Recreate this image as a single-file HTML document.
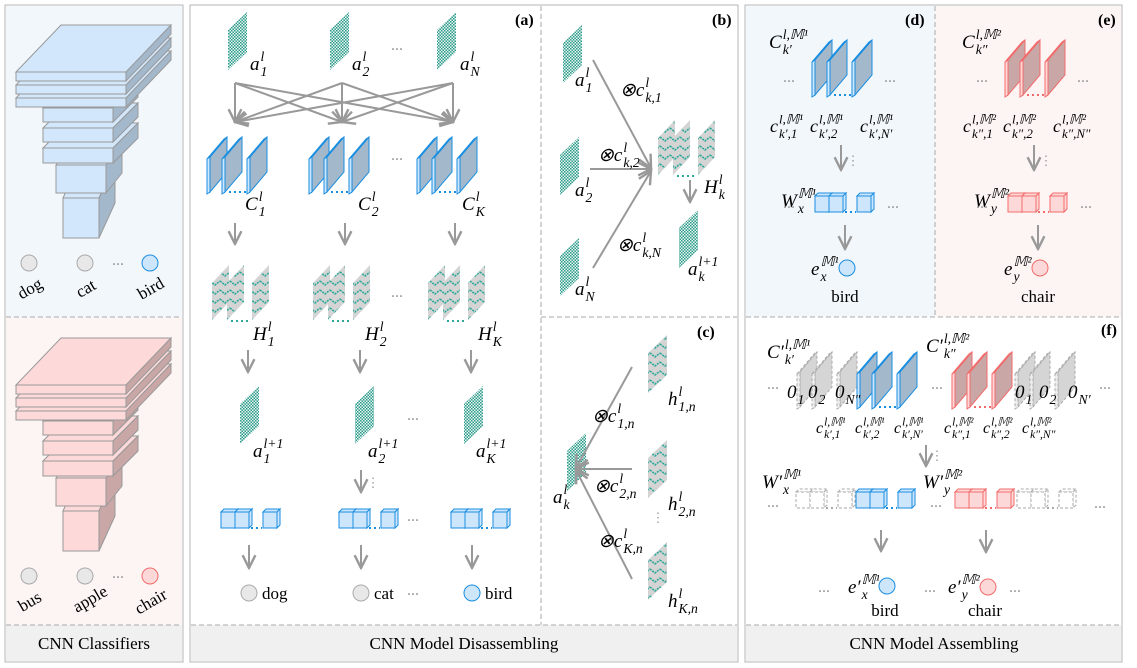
<!DOCTYPE html>
<html><head><meta charset="utf-8"><style>
html,body{margin:0;padding:0;background:#fff;}
svg{display:block;font-family:"Liberation Serif",serif;}
</style></head><body>
<svg id="fig" xmlns="http://www.w3.org/2000/svg" width="1137" height="668" viewBox="0 0 1137 668">
<defs>
<pattern id="chk" width="3" height="3" patternUnits="userSpaceOnUse"><rect width="3" height="3" fill="#e8f4f1"/><rect width="1.5" height="1.5" fill="#2e9c8c"/><rect x="1.5" y="1.5" width="1.5" height="1.5" fill="#2e9c8c"/></pattern>
<pattern id="zig" width="10" height="9" patternUnits="userSpaceOnUse"><rect width="10" height="9" fill="#d4d4d4"/><polyline points="0,2 5,6 10,2" fill="none" stroke="#2aa898" stroke-width="1.6" stroke-dasharray="2,1"/></pattern>
<marker id="ah" viewBox="0 0 10 10" refX="9" refY="5" markerWidth="8" markerHeight="8" orient="auto-start-reverse"><polyline points="1,1 9,5 1,9" fill="none" stroke="#999" stroke-width="1.5"/></marker>
</defs>
<rect x="5" y="5" width="178" height="657" fill="#fff" stroke="#b5b5b5"/>
<rect x="6" y="6" width="176" height="311" fill="#f2f7fc"/>
<rect x="6" y="317" width="176" height="308" fill="#fdf5f4"/>
<rect x="6" y="625" width="176" height="36" fill="#f0f0f0"/>
<line x1="6" y1="317" x2="182" y2="317" stroke="#aaa" stroke-dasharray="5,3"/>
<line x1="6" y1="625" x2="182" y2="625" stroke="#aaa" stroke-dasharray="5,3"/>
<rect x="190" y="5" width="548" height="657" fill="#fff" stroke="#b5b5b5"/>
<rect x="191" y="625" width="546" height="36" fill="#f0f0f0"/>
<line x1="191" y1="625" x2="737" y2="625" stroke="#aaa" stroke-dasharray="5,3"/>
<line x1="541" y1="6" x2="541" y2="625" stroke="#aaa" stroke-dasharray="5,3"/>
<line x1="541" y1="317" x2="737" y2="317" stroke="#aaa" stroke-dasharray="5,3"/>
<rect x="745" y="5" width="377" height="657" fill="#fff" stroke="#b5b5b5"/>
<rect x="746" y="6" width="189" height="311" fill="#f2f7fc"/>
<rect x="935" y="6" width="186" height="311" fill="#fdf5f4"/>
<line x1="935" y1="6" x2="935" y2="317" stroke="#aaa" stroke-dasharray="5,3"/>
<line x1="746" y1="317" x2="1121" y2="317" stroke="#aaa" stroke-dasharray="5,3"/>
<rect x="746" y="625" width="375" height="36" fill="#f0f0f0"/>
<line x1="746" y1="625" x2="1121" y2="625" stroke="#aaa" stroke-dasharray="5,3"/>
<text x="94" y="649" font-size="17" text-anchor="middle">CNN Classifiers</text>
<text x="464" y="649" font-size="17" text-anchor="middle">CNN Model Disassembling</text>
<text x="934" y="649" font-size="17" text-anchor="middle">CNN Model Assembling</text>
<g id="g"></g>
</svg>
<script>
const NS="http://www.w3.org/2000/svg";
const G=document.getElementById('g');
function mk(tag,attrs,name,parent){
  const el=document.createElementNS(NS,tag);
  for(const k in attrs) el.setAttribute(k,attrs[k]);
  
  
  (parent||G).appendChild(el);return el;
}
function poly(pts,fill,stroke,name,extra){
  const a={points:pts.map(p=>p.join(',')).join(' '),fill:fill,stroke:stroke||'none','stroke-width':1};
  Object.assign(a,extra||{});return mk('polygon',a,name);
}
function line(x1,y1,x2,y2,name,extra){
  const a={x1:x1,y1:y1,x2:x2,y2:y2,stroke:'#999','stroke-width':2};Object.assign(a,extra||{});return mk('line',a,name);
}
function arrow(x1,y1,x2,y2,name){return line(x1,y1,x2,y2,name,{'marker-end':'url(#ah)'});}
function txt(x,y,s,size,name,extra){
  const a={x:x,y:y,'font-size':size};Object.assign(a,extra||{});const t=mk('text',a,name);t.textContent=s;return t;
}
function dots(x,y,name,vert){
  if(vert){txt(x,y,'⋮',13,name,{fill:'#999','text-anchor':'middle'});}
  else{txt(x,y,'···',12,name,{fill:'#999','text-anchor':'middle','font-weight':'bold'});}
}
function math(x,y,base,sup,sub,name,size){
  size=size||19;
  const gg=mk('g',{},name);
  const b=document.createElementNS(NS,'text');
  b.setAttribute('x',x);b.setAttribute('y',y);b.setAttribute('font-size',size);b.setAttribute('font-style','italic');
  b.textContent=base;gg.appendChild(b);
  let w=b.getComputedTextLength?b.getComputedTextLength():size*0.5*base.length;
  if(!w) w=size*0.5*base.length;
  if(sup){const s=document.createElementNS(NS,'text');s.setAttribute('x',x+w+1);s.setAttribute('y',y-size*0.48);s.setAttribute('font-size',size*0.72);s.setAttribute('font-style','italic');s.textContent=sup;gg.appendChild(s);}
  if(sub){const s=document.createElementNS(NS,'text');s.setAttribute('x',x+w+1);s.setAttribute('y',y+size*0.32);s.setAttribute('font-size',size*0.72);s.setAttribute('font-style','italic');s.textContent=sub;gg.appendChild(s);}
  return gg;
}
function fmap(x,y,name,w,h,fill){
  w=w||19;h=h||58;const sk=18;
  return poly([[x,y+sk],[x+w,y],[x+w,y+h-sk],[x,y+h]],fill||'url(#chk)','none',name);
}
function plate(x,y,fill,stroke,light,name,dash){
  const w=17,h=55,sk=20;
  poly([[x-3,y+sk+2],[x+w-3,y+2],[x+w,y],[x,y+sk]],light,stroke,name+'-edge',dash?{'stroke-dasharray':'3,2'}:{});
  poly([[x,y+sk],[x+w,y],[x+w,y+h-sk],[x,y+h]],fill,stroke,name,dash?{'stroke-dasharray':'3,2'}:{});
  poly([[x-3,y+sk+2],[x,y+sk],[x,y+h],[x-3,y+h+2]],light,stroke,name+'-side',dash?{'stroke-dasharray':'3,2'}:{});
}
function convGroup(x,y,fill,stroke,light,name,dotc){
  plate(x,y,fill,stroke,light,name+'-filter-1');
  plate(x+15,y,fill,stroke,light,name+'-filter-2');
  plate(x+40,y,fill,stroke,light,name+'-filter-n');
  line(x+19,y+55,x+38,y+55,name+'-dots',{stroke:dotc||stroke,'stroke-dasharray':'2,3','stroke-width':2});
}
function hGroup(x,y,name){
  fmap(x,y,name+'-map-1',17,55,'url(#zig)');
  fmap(x+15,y,name+'-map-2',17,55,'url(#zig)');
  fmap(x+40,y,name+'-map-n',17,55,'url(#zig)');
  line(x+19,y+56,x+38,y+56,name+'-dots',{stroke:'#2aa898','stroke-dasharray':'2,3','stroke-width':2});
}
function box(x,y,fill,stroke,name,dash){
  const e=dash?{'stroke-dasharray':'3,2'}:{};
  poly([[x,y],[x+3,y-3],[x+17,y-3],[x+14,y]],fill,stroke,name+'-top',e);
  poly([[x+14,y],[x+17,y-3],[x+17,y+13],[x+14,y+16]],fill,stroke,name+'-side',e);
  mk('rect',Object.assign({x:x,y:y,width:14,height:16,fill:fill,stroke:stroke},e),name);
}
function cubes(x,y,fill,stroke,name,dotc,dash){
  box(x,y,fill,stroke,name+'-unit-1',dash);box(x+14,y,fill,stroke,name+'-unit-2',dash);box(x+42,y,fill,stroke,name+'-unit-n',dash);
  line(x+30,y+16,x+41,y+16,name+'-dots',{stroke:dotc||stroke,'stroke-dasharray':'2,3','stroke-width':2});
}
function circ(x,y,fill,stroke,name){return mk('circle',{cx:x,cy:y,r:8,fill:fill,stroke:stroke,'stroke-width':1},name);}
function cuboid(x,y,w,h,dx,dy,front,side,name){
  poly([[x,y],[x+dx,y+dy],[x+w+dx,y+dy],[x+w,y]],front,'#999',name+'-top');
  poly([[x+w,y],[x+w+dx,y+dy],[x+w+dx,y+h+dy],[x+w,y+h]],side,'#999',name+'-side');
  mk('rect',{x:x,y:y,width:w,height:h,fill:front,stroke:'#999'},name);
}
const BLUE='#1a8ee0',BL='#cde6fb',BP='#a3b8cb';
const RED='#f26b6b',RL='#fdd8d8',RP='#c9a7a7';

function classifier(oy,front,side,cls,hl,hls,name){
  cuboid(63,198+oy,36,40,16,-35,front,side,name+'-layer-8');
  cuboid(56,165+oy,50,28,16,-20,front,side,name+'-layer-7');
  cuboid(43,148+oy,70,15,25,-25,front,side,name+'-layer-6');
  cuboid(43,128+oy,70,14,25,-25,front,side,name+'-layer-5');
  cuboid(43,108+oy,70,14,25,-25,front,side,name+'-layer-4');
  cuboid(16,98+oy,110,9,45,-47,front,side,name+'-layer-3');
  cuboid(16,85+oy,110,9,45,-47,front,side,name+'-layer-2');
  cuboid(16,72+oy,110,9,45,-47,front,side,name+'-layer-1');
  const cx=[29,85,150];
  circ(cx[0],263+oy,'#e8e8e8','#aaa',name+'-output-1');
  circ(cx[1],263+oy,'#e8e8e8','#aaa',name+'-output-2');
  circ(cx[2],263+oy,hl,hls,name+'-output-n');
  dots(118,268+oy,name+'-dots');
  cls.forEach((c,i)=>{txt(cx[i]+(i==1&&c.length>3?5:0),292+oy,c,17,name+'-label-'+c,{'text-anchor':'middle',transform:'rotate(-30 '+(cx[i]+4)+' '+(286+oy)+')'});});
}
classifier(0,'#d2e7fb','#a4b8cc',['dog','cat','bird'],BL,BLUE,'classifier-1');
classifier(313,'#fdd9d9','#c9a7a7',['bus','apple','chair'],RL,RED,'classifier-2');

txt(515,25,'(a)',16,'panel-a-label',{'font-weight':'bold'});
const ax=[228,330,437];
ax.forEach((x,i)=>fmap(x,12,'input-map-'+(i+1)));
math(250,70,'a','l','1','label-a1');math(352,70,'a','l','2','label-a2');math(460,70,'a','l','N','label-aN');
dots(397,53,'input-dots');
const src=[235,342,453];
src.forEach((s,i)=>src.forEach((d,j)=>{arrow(s,83,d,122,'arrow-'+(i+1)+'-'+(j+1));}));
const cg=[210,312,420];
cg.forEach((x,i)=>convGroup(x,137,BP,BLUE,BL,'conv-group-'+(i+1)));
math(245,210,'C','l','1','label-C1');math(358,210,'C','l','2','label-C2');math(462,210,'C','l','K','label-CK');
dots(397,163,'conv-dots');
[235,345,455].forEach((x,i)=>arrow(x,223,x,244,'arrow-conv-'+(i+1)));
[212,313,428].forEach((x,i)=>hGroup(x,265,'H-group-'+(i+1)));
math(253,340,'H','l','1','label-H1');math(365,340,'H','l','2','label-H2');math(478,340,'H','l','K','label-HK');
dots(397,300,'H-dots');
[248,360,471].forEach((x,i)=>arrow(x,350,x,372,'arrow-H-'+(i+1)));
[240,355,464].forEach((x,i)=>fmap(x,386,'output-map-'+(i+1)));
math(253,457,'a','l+1','1','label-a1-next');math(368,457,'a','l+1','2','label-a2-next');math(476,457,'a','l+1','K','label-aK-next');
dots(413,423,'output-map-dots');
arrow(361,470,361,492,'arrow-col2-fc');dots(373,487,'fc-vdots',true);
[221,339,451].forEach((x,i)=>cubes(x,512,BL,BLUE,'fc-'+(i+1)));
dots(413,524,'fc-dots');
[249,361,472].forEach((x,i)=>arrow(x,545,x,568,'arrow-fc-'+(i+1)));
circ(249,593,'#e8e8e8','#aaa','out-dog');circ(361,593,'#e8e8e8','#aaa','out-cat');circ(472,593,BL,BLUE,'out-bird');
txt(262,599,'dog',17,'label-dog');txt(374,599,'cat',17,'label-cat');txt(485,599,'bird',17,'label-bird');
dots(413,598,'out-dots');

txt(712,25,'(b)',16,'panel-b-label',{'font-weight':'bold'});
fmap(563,25,'b-input-1');fmap(560,137,'b-input-2');fmap(560,238,'b-input-N');
math(575,86,'a','l','1','b-label-a1');math(575,196,'a','l','2','b-label-a2');math(575,295,'a','l','N','b-label-aN');
arrow(593,60,651,168,'b-arrow-1');arrow(590,169,651,169,'b-arrow-2');arrow(593,268,651,171,'b-arrow-N');
math(620,96,'⊗c','l','k,1','b-coef-1');math(598,161,'⊗c','l','k,2','b-coef-2');math(617,251,'⊗c','l','k,N','b-coef-N');
hGroup(658,120,'b-H-group');
math(704,193,'H','l','k','b-label-H');
arrow(690,180,690,202,'b-arrow-H');
fmap(679,210,'b-output');
math(688,275,'a','l+1','k','b-label-a-next');

txt(697,337,'(c)',16,'panel-c-label',{'font-weight':'bold'});
fmap(567,433,'c-output');
math(553,503,'a','l','k','c-label-a');
arrow(632,367,576,468,'c-arrow-1');arrow(632,469,576,469,'c-arrow-2');arrow(632,579,576,470,'c-arrow-K');
fmap(648,335,'c-h-1',19,58,'url(#zig)');fmap(648,440,'c-h-2',19,58,'url(#zig)');fmap(648,542,'c-h-K',19,58,'url(#zig)');
math(668,405,'h','l','1,n','c-label-h1');math(668,510,'h','l','2,n','c-label-h2');math(668,607,'h','l','K,n','c-label-hK');
math(592,422,'⊗c','l','1,n','c-coef-1');math(594,492,'⊗c','l','2,n','c-coef-2');math(598,547,'⊗c','l','K,n','c-coef-K');
dots(658,522,'c-vdots',true);

function de(ox,fill,stroke,light,sup,subk,cs,Wsub,lbl,name,letter){
  txt(ox+160,25,'('+letter+')',16,name+'-label',{'font-weight':'bold'});
  math(ox+24,48,'C',sup,subk,name+'-label-C');
  convGroup(ox+70,40,fill,stroke,light,name+'-filters');
  dots(ox+44,85,name+'-dots-l');dots(ox+145,85,name+'-dots-r');
  cs.forEach((s,i)=>math(ox+[25,65,115][i],132,'c',sup,s,name+'-coef-'+(i+1),18));
  arrow(ox+96,145,ox+96,170,name+'-arrow-1');dots(ox+108,165,name+'-vdots',true);
  math(ox+36,207,'W',sup.replace('l,',''),Wsub,name+'-label-W');
  cubes(ox+70,196,light,stroke,name+'-weights',stroke);
  dots(ox+44,211,name+'-wdots-l');dots(ox+148,211,name+'-wdots-r');
  arrow(ox+100,225,ox+100,249,name+'-arrow-2');
  math(ox+66,275,'e',sup.replace('l,',''),Wsub,name+'-label-e');
  circ(ox+102,268,light,stroke,name+'-output');
  txt(ox+100,302,lbl,17,name+'-class',{'text-anchor':'middle'});
}
de(745,BP,BLUE,BL,'l,𝕄¹',"k′",["k′,1","k′,2","k′,N′"],'x','bird','panel-d','d');
de(938,RP,RED,RL,'l,𝕄²',"k″",["k″,1","k″,2","k″,N″"],'y','chair','panel-e','e');

txt(1101,335,'(f)',16,'panel-f-label',{'font-weight':'bold'});
math(767,358,"C′",'l,𝕄¹',"k′",'f-label-C1');
math(926,352,"C′",'l,𝕄²',"k″",'f-label-C2');
[800,815,840].forEach((x,i)=>plate(x,352,'#d5d5d5','#aaa','#eee','f-zero-filter-a'+(i+1),true));
convGroup(860,352,BP,BLUE,BL,'f-filters-1');
convGroup(955,352,RP,RED,RL,'f-filters-2');
[1018,1033,1058].forEach((x,i)=>plate(x,352,'#d5d5d5','#aaa','#eee','f-zero-filter-b'+(i+1),true));
math(787,398,'0','','1','f-zero-1');math(808,398,'0','','2','f-zero-2');math(835,398,'0','','N″','f-zero-N');
math(1015,398,'0','','1','f-zero-b1');math(1039,398,'0','','2','f-zero-b2');math(1068,398,'0','','N′','f-zero-bN');
dots(773,392,'f-dots-1');dots(937,392,'f-dots-2');dots(1105,392,'f-dots-3');
["k′,1","k′,2","k′,N′"].forEach((s,i)=>math(816+i*39,433,'c','l,𝕄¹',s,'f-coef-a'+(i+1),16));
["k″,1","k″,2","k″,N″"].forEach((s,i)=>math(944+i*39,433,'c','l,𝕄²',s,'f-coef-b'+(i+1),16));
arrow(926,445,926,466,'f-arrow-1');dots(937,460,'f-vdots',true);
math(762,488,"W′",'𝕄¹','x','f-label-W1');
math(923,488,"W′",'𝕄²','y','f-label-W2');
cubes(796,492,'#fff','#aaa','f-zero-weights-a','#aaa',true);
cubes(856,492,BL,BLUE,'f-weights-1',BLUE);
cubes(955,492,RL,RED,'f-weights-2',RED);
cubes(1017,492,'#fff','#aaa','f-zero-weights-b','#aaa',true);
dots(773,510,'f-wdots-1');dots(936,510,'f-wdots-2');dots(1100,511,'f-wdots-3');
arrow(881,530,881,551,'f-arrow-2');arrow(986,530,986,552,'f-arrow-3');
math(848,593,"e′",'𝕄¹','x','f-label-e1');
math(948,593,"e′",'𝕄²','y','f-label-e2');
circ(887,586,BL,BLUE,'f-output-bird');circ(988,587,RL,RED,'f-output-chair');
txt(885,616,'bird',17,'f-class-bird',{'text-anchor':'middle'});
txt(985,616,'chair',17,'f-class-chair',{'text-anchor':'middle'});
dots(824,595,'f-odots-1');dots(930,595,'f-odots-2');dots(1015,595,'f-odots-3');
</script>
</body></html>
